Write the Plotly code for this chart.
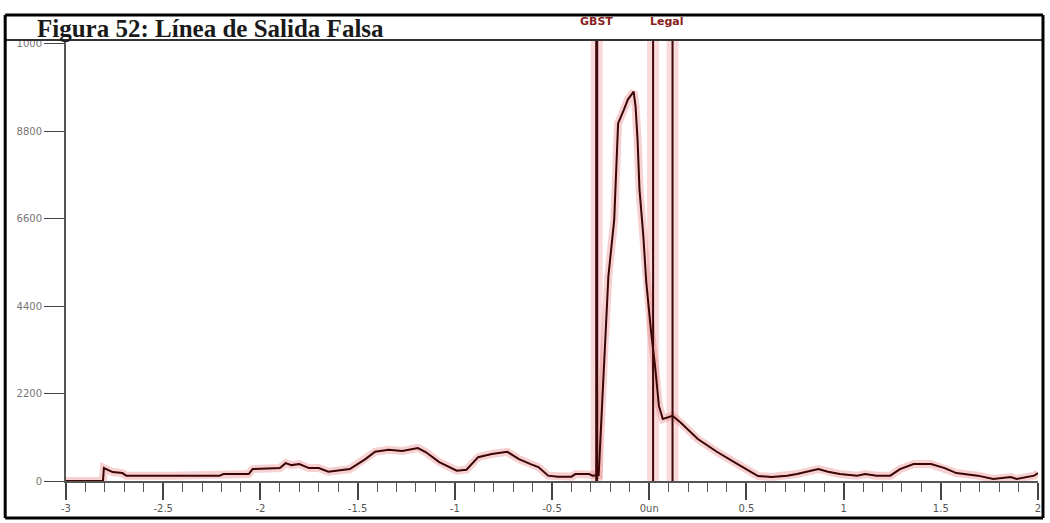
import plotly.graph_objects as go

# ---- data ----
x_vals = [-3.0, -2.81, -2.805, -2.76, -2.71, -2.69, -2.45, -2.21, -2.19, -2.06,
          -2.04, -1.97, -1.90, -1.87, -1.84, -1.80, -1.75, -1.70, -1.65, -1.54,
          -1.46, -1.41, -1.34, -1.27, -1.19, -1.15, -1.08, -0.99, -0.94, -0.88,
          -0.81, -0.73, -0.67, -0.61, -0.57, -0.52, -0.47, -0.40, -0.38, -0.31,
          -0.29, -0.26, -0.23, -0.21, -0.18, -0.17, -0.16, -0.13, -0.11, -0.08,
          -0.07, -0.06, -0.05, -0.03, -0.015, 0.01, 0.03, 0.05, 0.07, 0.12,
          0.16, 0.25, 0.35, 0.47, 0.56, 0.63, 0.71, 0.76, 0.87, 0.92,
          0.98, 1.07, 1.11, 1.17, 1.24, 1.29, 1.36, 1.45, 1.52, 1.58,
          1.69, 1.77, 1.86, 1.89, 1.98, 2.0]
y_vals = [0, 0, 325, 225, 200, 135, 130, 135, 175, 175,
          300, 320, 325, 450, 400, 425, 325, 325, 235, 300,
          550, 735, 785, 755, 830, 730, 475, 260, 285, 600,
          680, 735, 550, 425, 350, 135, 110, 110, 175, 175,
          135, 150, 3390, 5150, 6580, 7900, 9000, 9350, 9600, 9800,
          9420, 8600, 7340, 6150, 5000, 3740, 2900, 1890, 1560, 1640,
          1480, 1055, 730, 380, 125, 100, 130, 175, 300, 235,
          175, 135, 175, 135, 135, 300, 425, 425, 325, 200,
          135, 50, 100, 50, 135, 200]

marker_x = [-0.27, 0.02, 0.12]
marker_labels = ["GBST", "Legal"]
marker_label_x = [-0.27, 0.09]

x_tickvals = [-3, -2.5, -2, -1.5, -1, -0.5, 0, 0.5, 1, 1.5, 2]
x_ticktext = ["-3", "-2.5", "-2", "-1.5", "-1", "-0.5", "0un", "0.5", "1", "1.5", "2"]
y_tickvals = [0, 2200, 4400, 6600, 8800, 11000]
y_ticktext = ["0", "2200", "4400", "6600", "8800", "1000"]

title_text = "Figura 52: Línea de Salida Falsa"

# ---- layout geometry ----
W, H = 1050, 523
L, R, T, B = 66, 9, 40, 41
PW, PH = W - L - R, H - T - B


def px(xp):
    return (xp - L) / PW


def py(yp):
    return 1 - (yp - T) / PH


fig = go.Figure()

# glow under the curve
fig.add_trace(go.Scatter(x=x_vals, y=y_vals, mode="lines",
                         line=dict(color="rgba(225,90,90,0.28)", width=8),
                         hoverinfo="skip", showlegend=False))
fig.add_trace(go.Scatter(x=x_vals, y=y_vals, mode="lines",
                         line=dict(color="#3a0606", width=2),
                         showlegend=False))

shapes = []
# vertical marker lines with glow
for i, mx in enumerate(marker_x):
    shapes.append(dict(type="line", xref="x", yref="paper", x0=mx, x1=mx, y0=0, y1=1,
                       line=dict(color="rgba(235,130,130,0.30)", width=12), layer="below"))
    shapes.append(dict(type="line", xref="x", yref="paper", x0=mx, x1=mx, y0=0, y1=1,
                       line=dict(color="#3e0808", width=3 if i == 0 else 2)))

# top inner line of plot
shapes.append(dict(type="line", xref="paper", yref="paper", x0=px(5), x1=px(1047),
                   y0=1, y1=1, line=dict(color="#333333", width=2)))
# outer frame, drawn as four lines
frame = [(5, 15, 1046, 15), (5, 519, 1046, 519), (5, 15, 5, 519), (1046, 15, 1046, 519)]
for (a, b, c, d) in frame:
    shapes.append(dict(type="line", xref="paper", yref="paper",
                       x0=px(a), y0=py(b), x1=px(c), y1=py(d),
                       line=dict(color="#000000", width=3)))

annotations = [dict(text="<b>" + title_text + "</b>", xref="paper", yref="paper",
                    x=px(36), y=py(28), xanchor="left", yanchor="middle",
                    showarrow=False, borderpad=0,
                    font=dict(family="Liberation Serif", size=25, color="#1a1a1a"))]
for lab, lx in zip(marker_labels, marker_label_x):
    annotations.append(dict(text="<b>" + lab + "</b>", xref="x", yref="paper",
                            x=lx, y=py(21), xanchor="center", yanchor="middle",
                            showarrow=False,
                            font=dict(family="DejaVu Sans", size=11, color="#8a1c1c")))

fig.update_layout(
    width=W, height=H,
    margin=dict(l=L, r=R, t=T, b=B),
    paper_bgcolor="white", plot_bgcolor="white",
    shapes=shapes, annotations=annotations,
    xaxis=dict(range=[-3, 2], showgrid=False, zeroline=False,
               showline=True, linecolor="#555555", linewidth=2,
               tickmode="array", tickvals=x_tickvals, ticktext=x_ticktext,
               ticks="outside", ticklen=17, tickwidth=2, tickcolor="#444444",
               tickfont=dict(family="DejaVu Sans", size=10, color="#555555"),
               minor=dict(dtick=0.1, ticks="outside", ticklen=9, tickwidth=1,
                          tickcolor="#555555", showgrid=False)),
    yaxis=dict(range=[0, 11100], showgrid=False, zeroline=False,
               showline=True, linecolor="#555555", linewidth=2,
               tickmode="array", tickvals=y_tickvals, ticktext=y_ticktext,
               ticks="outside", ticklen=20, tickwidth=1, tickcolor="#444444",
               tickfont=dict(family="DejaVu Sans", size=10, color="#777777")),
)

fig.write_html("out.html", config={"displayModeBar": False},
               post_script="document.body.style.margin='0';document.body.style.overflow='hidden';")
